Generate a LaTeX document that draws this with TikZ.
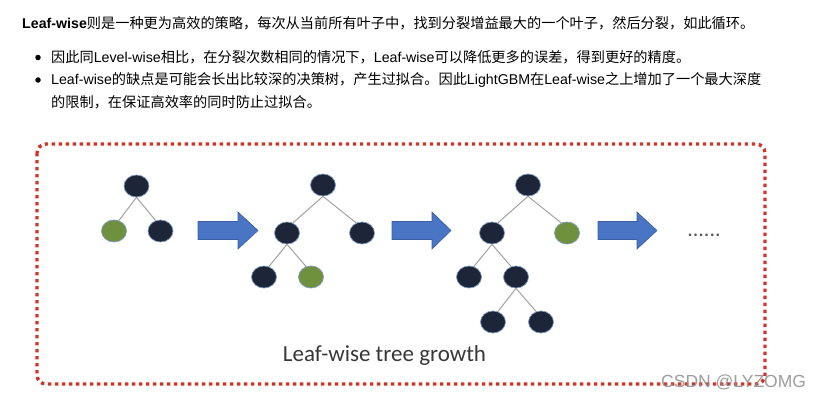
\documentclass[tikz,border=0pt]{standalone}
\usepackage{fontspec}
\setmainfont{Liberation Sans}
\newfontfamily\cjk{Noto Sans CJK SC}
\newfontfamily\calfont{Carlito}
\usetikzlibrary{shapes.geometric}
\definecolor{navy}{HTML}{1C2638}
\definecolor{halo}{HTML}{7F9CC0}
\definecolor{leafgreen}{HTML}{6F913D}
\definecolor{arrowblue}{HTML}{4A74C4}
\definecolor{arrowedge}{HTML}{3B5E9E}
\definecolor{dotred}{HTML}{D0352B}
\definecolor{edgegray}{HTML}{A3A3A3}
\begin{document}
\begin{tikzpicture}[x=1pt,y=-1pt,
  txt/.style={anchor=west,inner sep=0pt,font=\fontsize{14.2}{17}\selectfont,text=black},
  bul/.style={circle,fill=black,inner sep=0pt,minimum size=5.5pt},
  nd/.style={ellipse,fill=navy,draw=halo,line width=0.7pt,minimum width=25pt,minimum height=22pt,inner sep=0pt},
  gn/.style={nd,fill=leafgreen},
  link/.style={draw=edgegray,line width=1pt},
  bigarrow/.style={fill=arrowblue,draw=arrowedge,line width=0.6pt,line join=miter},
  frame/.style={draw=dotred,line width=3.4pt,dash pattern=on 3.4pt off 3.6pt,rounded corners=9pt}
]
\useasboundingbox (0,0) rectangle (822,400);
\fill[white] (0,0) rectangle (822,400);

% text
\node[txt] (t1) at (22,23) {\textbf{Leaf-wise}{\cjk 则是一种更为高效的策略，每次从当前所有叶子中，找到分裂增益最大的一个叶子，然后分裂，如此循环。}};
\node[bul] (b2) at (38,57.5) {};
\node[txt] (t2) at (51,57) {{\cjk 因此同}Level-wise{\cjk 相比，在分裂次数相同的情况下，}Leaf-wise{\cjk 可以降低更多的误差，得到更好的精度。}};
\node[bul] (b3) at (38,80) {};
\node[txt] (t3) at (51,79.5) {Leaf-wise{\cjk 的缺点是可能会长出比较深的决策树，产生过拟合。因此}LightGBM{\cjk 在}Leaf-wise{\cjk 之上增加了一个最大深度}};
\node[txt] (t4) at (51,102) {{\cjk 的限制，在保证高效率的同时防止过拟合。}};

% dotted frame
\draw[frame] (37,144) rectangle (765,384);

% tree 1
\node[nd] (a0) at (136.5,186) {};
\node[gn] (a1) at (114,231) {};
\node[nd] (a2) at (160.5,231) {};
% tree 2
\node[nd] (b0) at (323,185) {};
\node[nd] (b1) at (287,233) {};
\node[nd] (bb2) at (362,233) {};
\node[nd] (b11) at (264,277) {};
\node[gn] (b12) at (311,277) {};
% tree 3
\node[nd] (c0) at (528,185) {};
\node[nd] (c1) at (492,233) {};
\node[gn] (c2) at (567,233) {};
\node[nd] (c11) at (469,277) {};
\node[nd] (c12) at (516,277) {};
\node[nd] (c121) at (493,322) {};
\node[nd] (c122) at (541,322) {};

\path[link] (a0.south) -- (a1.65) (a0.south) -- (a2.115)
  (b0.south) -- (b1.60) (b0.south) -- (bb2.120) (b1.south) -- (b11.65) (b1.south) -- (b12.115)
  (c0.south) -- (c1.60) (c0.south) -- (c2.120) (c1.south) -- (c11.65) (c1.south) -- (c12.115)
  (c12.south) -- (c121.65) (c12.south) -- (c122.115);

% arrows
\draw[bigarrow] (198,221.5) -- (238,221.5) -- (238,212) -- (258,230.5) -- (238,249) -- (238,239.5) -- (198,239.5) -- cycle;
\draw[bigarrow] (392,221.5) -- (432,221.5) -- (432,212) -- (451,230.5) -- (432,249) -- (432,239.5) -- (392,239.5) -- cycle;
\draw[bigarrow] (598,221.5) -- (637,221.5) -- (637,212) -- (657,230.5) -- (637,249) -- (637,239.5) -- (598,239.5) -- cycle;

\node[anchor=base,inner sep=0pt,text=black!65,font=\calfont\fontsize{22}{24}\selectfont] (dots) at (704,236) {......};

% caption
\node[anchor=base,inner sep=0pt,text=black!78,font=\calfont\fontsize{23}{26}\selectfont] (cap) at (384.5,361) {Leaf-wise tree growth};

% watermark
\node[anchor=west,inner sep=0pt,text=black!45,opacity=0.85,font=\fontsize{17.5}{20}\selectfont] (wm) at (661,382) {CSDN @LYZOMG};
\end{tikzpicture}
\end{document}
